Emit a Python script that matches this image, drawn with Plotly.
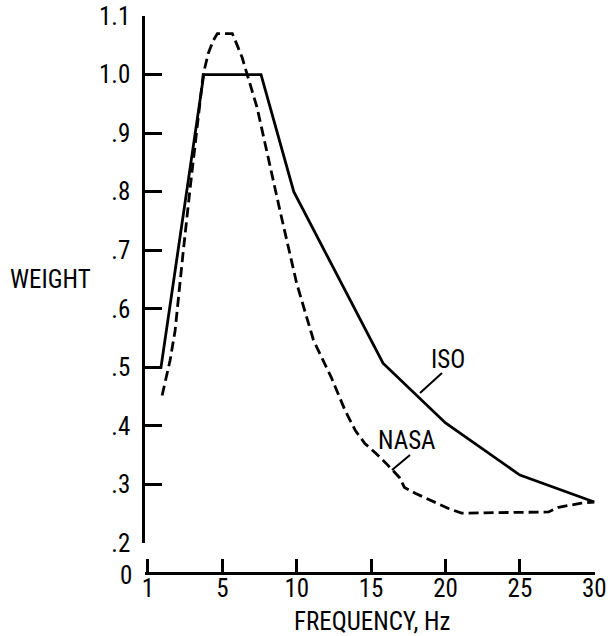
import numpy as np
import plotly.graph_objects as go

# ---- data ----
tick_freqs = [1, 5, 10, 15, 20, 25, 30]
tick_labels = ["1", "5", "10", "15", "20", "25", "30"]
y_ticks = [0.2, 0.3, 0.4, 0.5, 0.6, 0.7, 0.8, 0.9, 1.0, 1.1]
y_tick_labels = [".2", ".3", ".4", ".5", ".6", ".7", ".8", ".9", "1.0", "1.1"]

iso_freq = [1, 1.7, 4.0, 7.6, 9.8, 15.8, 20, 25, 30]
iso_weight = [0.5, 0.5, 1.0, 1.0, 0.8, 0.507, 0.405, 0.316, 0.27]

nasa_freq = [1.76, 2.19, 2.46, 2.62, 2.89, 3.27, 3.97, 4.24, 4.51, 4.73, 5.67, 5.87,
             6.33, 6.73, 7.33, 8.87, 10.0, 11.13, 12.32, 13.24, 13.94, 14.58, 15.33,
             16.12, 16.9, 17.24, 17.96, 20.2, 21.08, 26.93, 27.6, 29.13, 30.0]
nasa_weight = [0.452, 0.512, 0.563, 0.614, 0.696, 0.807, 1.0, 1.036, 1.058, 1.07, 1.07, 1.058,
               1.029, 0.995, 0.944, 0.768, 0.643, 0.546, 0.483, 0.427, 0.392, 0.370, 0.353,
               0.333, 0.312, 0.295, 0.285, 0.259, 0.251, 0.253, 0.261, 0.268, 0.270]

# frequency scale of the original: equal spacing between labelled ticks
def fscale(f):
    return np.interp(f, tick_freqs, np.arange(len(tick_freqs)))

FONT = "Liberation Sans Narrow, Roboto Condensed, DejaVu Sans Condensed, Liberation Sans, sans-serif"
FS = 25
W, H = 610, 636
ML, MR, MT, MB = 145, 15, 16, 63
PW, PH = W - ML - MR, H - MT - MB

def px(x):
    return (x - ML) / PW

def py(y):
    return (H - MB - y) / PH

fig = go.Figure()
fig.add_trace(go.Scatter(x=fscale(iso_freq), y=iso_weight, mode="lines", name="ISO",
                         line=dict(color="black", width=2.8)))
fig.add_trace(go.Scatter(x=fscale(nasa_freq), y=nasa_weight, mode="lines", name="NASA",
                         line=dict(color="black", width=2.8, dash="10px,5px")))
# invisible copy bound to the label axis so that plotly draws its tick labels
fig.add_trace(go.Scatter(x=fscale(iso_freq), y=iso_weight, mode="lines", xaxis="x2",
                         opacity=0, hoverinfo="skip", showlegend=False,
                         line=dict(color="white", width=0.1)))

XR = [-0.04, 6.01]
ydom0 = 30 / PH
fig.update_layout(
    width=W, height=H,
    margin=dict(l=ML, r=MR, t=MT, b=MB, autoexpand=False),
    paper_bgcolor="white", plot_bgcolor="white",
    showlegend=False,
    font=dict(family=FONT, size=FS, color="black"),
    xaxis=dict(range=XR, tickvals=list(fscale(tick_freqs)), showticklabels=False,
               showline=True, linecolor="black", linewidth=2.5, ticks="inside",
               ticklen=13, tickwidth=2.5, tickcolor="black", showgrid=False, zeroline=False,
               anchor="free", position=0),
    # tick labels of the frequency axis, set just under the axis line
    xaxis2=dict(range=XR, overlaying="x", anchor="free", position=py(571), side="bottom",
                tickvals=list(fscale(tick_freqs)), ticktext=tick_labels,
                showline=False, ticks="", showgrid=False, zeroline=False,
                tickfont=dict(size=FS)),
    yaxis=dict(domain=[ydom0, 1], range=[0.2, 1.1], tickvals=y_ticks, ticktext=y_tick_labels,
               showline=True, linecolor="black", linewidth=2.5, ticks="inside",
               ticklen=17, tickwidth=2.5, tickcolor="black", showgrid=False, zeroline=False,
               ticklabelstandoff=7, tickfont=dict(size=FS)),
)

annots = [
    dict(text="0", x=px(134), y=py(575), xanchor="right", yanchor="middle"),
    dict(text="WEIGHT", x=px(50), y=py(279), xanchor="center", yanchor="middle"),
    dict(text="FREQUENCY, Hz", x=px(372), y=py(621), xanchor="center", yanchor="middle"),
    dict(text="ISO", x=px(448), y=py(359), xanchor="center", yanchor="middle"),
    dict(text="NASA", x=px(407), y=py(440), xanchor="center", yanchor="middle"),
]
for a in annots:
    fig.add_annotation(xref="paper", yref="paper", showarrow=False,
                       font=dict(family=FONT, size=FS, color="black"), **a)

leaders = [((442, 373), (420, 393)), ((410, 455), (392, 470))]
for (x0, y0), (x1, y1) in leaders:
    fig.add_shape(type="line", xref="paper", yref="paper",
                  x0=px(x0), y0=py(y0), x1=px(x1), y1=py(y1),
                  line=dict(color="black", width=2))

fig.write_html("out.html", config={"displayModeBar": False},
               post_script="document.body.style.margin='0';")
